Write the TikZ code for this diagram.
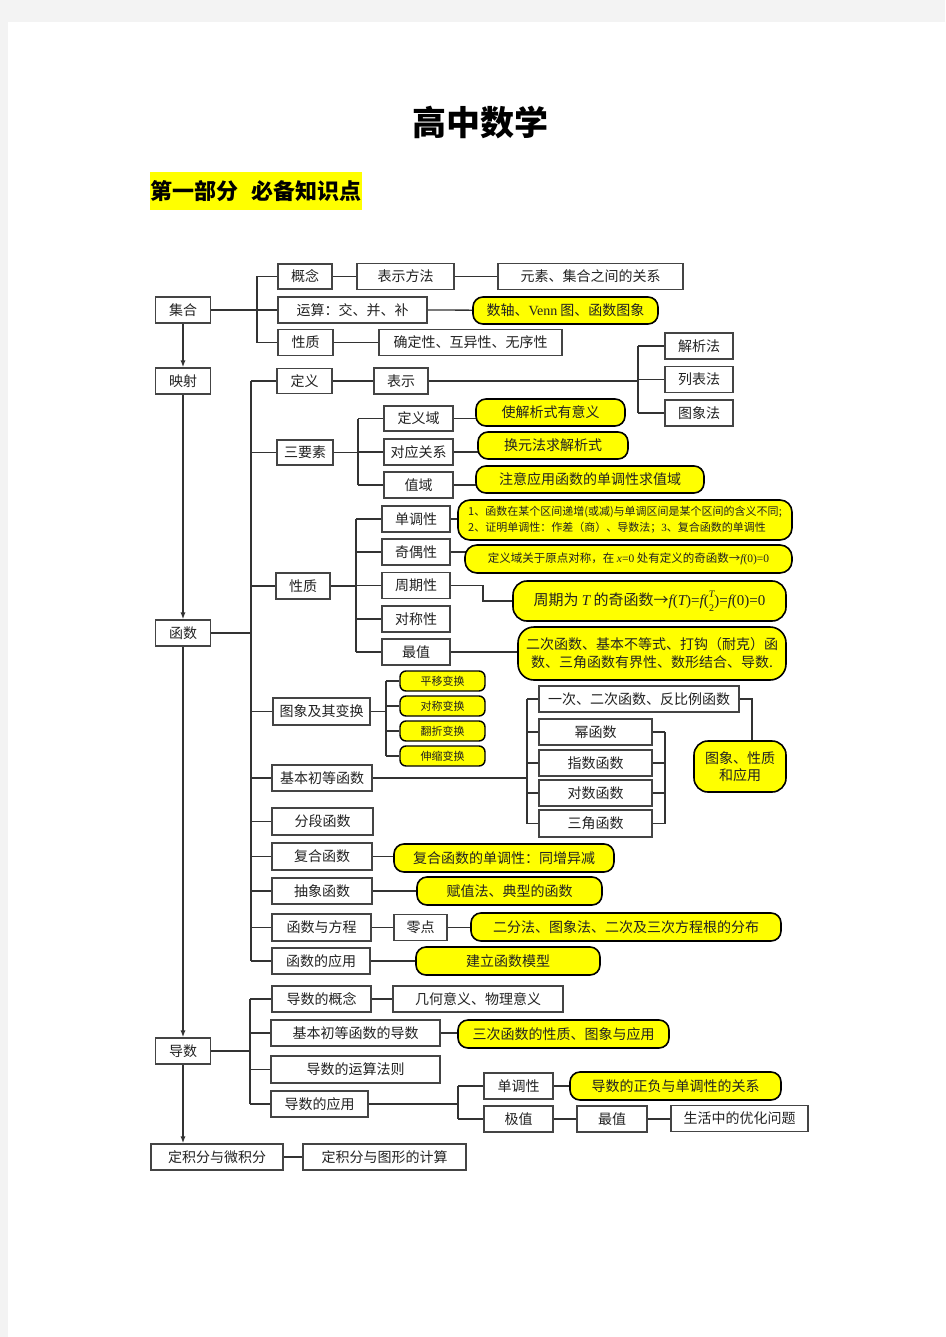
\documentclass[tikz,border=0pt]{standalone}
\usepackage{fontspec}
\setmainfont{Noto Sans CJK SC}
\newfontfamily\tm{Liberation Serif}
\usetikzlibrary{arrows.meta,backgrounds}
\newcommand\myfs[1]{\fontsize{#1}{#1}\selectfont}
\definecolor{pagebg}{HTML}{F3F3F3}
\definecolor{bordc}{HTML}{444444}
\definecolor{linec}{HTML}{333333}
\definecolor{txtc}{HTML}{222222}
\definecolor{yel}{HTML}{FFFF00}
\tikzset{
  bx/.style={draw=bordc, line width=1.1pt, fill=white, minimum height=26pt, inner sep=0pt, font=\myfs{14}, text=txtc},
  pl/.style={draw=black, line width=1.6pt, fill=yel, rounded corners=10pt, minimum height=28pt, inner sep=0pt, font=\myfs{14}, text=txtc},
  spl/.style={pl, minimum width=85pt, minimum height=20pt, rounded corners=6pt, line width=1.4pt, font=\myfs{11}},
  ln/.style={draw=linec, line width=1.3pt},
  arr/.style={ln, -{Latex[length=7pt,width=5pt]}},
}
\begin{document}
\begin{tikzpicture}[x=1pt,y=-1pt]
\useasboundingbox (0,0) rectangle (945,1337);
% title
\node (title) at (480,123) {\myfs{34}\bfseries 高中数学};
\node[fill=yel, minimum width=212pt, minimum height=38pt, inner sep=0pt] (part) at (256,191) {\myfs{22}\bfseries 第一部分\hspace{0.6em}必备知识点};
% main column
\node[bx, minimum width=55pt] (jihe) at (183,310) {集合};
\node[bx, minimum width=55pt] (yingshe) at (183,381) {映射};
\node[bx, minimum width=55pt] (hanshu) at (183,633) {函数};
\node[bx, minimum width=55pt] (daoshu) at (183,1051) {导数};
\node[bx, minimum width=132pt] (djf) at (217,1157) {定积分与微积分};
\node[bx, minimum width=163pt] (djf2) at (384.5,1157) {定积分与图形的计算};
% jihe group
\node[bx, minimum width=54pt, minimum height=25pt] (gainian) at (305,276.5) {概念};
\node[bx, minimum width=97pt] (bsff) at (405.5,276.5) {表示方法};
\node[bx, minimum width=185pt] (ysgx) at (590.5,276.5) {元素、集合之间的关系};
\node[bx, minimum width=149pt] (yunsuan) at (352.5,310) {运算：交、并、补};
\node[pl, minimum width=185pt, minimum height=27pt] (p1) at (565.5,310.5) {数轴、{\tm Venn} 图、函数图象};
\node[bx, minimum width=55pt] (xz1) at (305.5,342.5) {性质};
\node[bx, minimum width=183pt] (qdx) at (470.5,342.5) {确定性、互异性、无序性};
% dingyi
\node[bx, minimum width=55pt, minimum height=25pt] (dingyi) at (304.5,381) {定义};
\node[bx, minimum width=54pt] (biaoshi) at (401,381) {表示};
\node[bx, minimum width=68pt] (jxf) at (699,346) {解析法};
\node[bx, minimum width=68pt] (lbf) at (699,379.5) {列表法};
\node[bx, minimum width=68pt] (txf) at (699,413) {图象法};
% sanyaosu
\node[bx, minimum width=56pt, minimum height=25pt] (sys) at (305,452.5) {三要素};
\node[bx, minimum width=69pt, minimum height=25pt] (dyy) at (418.5,418.5) {定义域};
\node[bx, minimum width=69pt] (dygx) at (418.5,452) {对应关系};
\node[bx, minimum width=69pt] (zy) at (418.5,485) {值域};
\node[pl, minimum width=149pt, minimum height=27pt] (pdyy) at (550.5,412.5) {使解析式有意义};
\node[pl, minimum width=150pt, minimum height=27pt] (pdygx) at (553,445.5) {换元法求解析式};
\node[pl, minimum width=228pt, minimum height=27pt] (pzy) at (590,479.5) {注意应用函数的单调性求值域};
% xingzhi
\node[bx, minimum width=54pt] (xz2) at (303,586) {性质};
\node[bx, minimum width=68pt] (ddx) at (416,519) {单调性};
\node[bx, minimum width=68pt] (joux) at (416,552) {奇偶性};
\node[bx, minimum width=68pt] (zqx) at (416,585.5) {周期性};
\node[bx, minimum width=68pt] (dcx) at (416,619) {对称性};
\node[bx, minimum width=68pt] (zuizhi) at (416,652) {最值};
\node[pl, minimum width=334pt, minimum height=40pt, rounded corners=12pt, font=\myfs{11}, align=left] (pddx) at (625,520)
  {1、函数在某个区间递增(或减)与单调区间是某个区间的含义不同;\\[3pt]2、证明单调性：作差（商）、导数法；{\tm 3}、复合函数的单调性};
\node[pl, minimum width=327pt, minimum height=28pt, rounded corners=12pt, font=\myfs{11.5}] (pjoux) at (628.5,559)
  {定义域关于原点对称，在 {\tm\itshape x}{\tm =0} 处有定义的奇函数→{\tm\itshape f}{\tm (0)=0}};
\node[pl, minimum width=273pt, minimum height=40pt, rounded corners=14pt, font=\myfs{15}] (pzqx) at (649.5,601)
  {周期为 {\tm\itshape T} 的奇函数→{\tm\itshape f}{\tm (}{\tm\itshape T}{\tm )=}{\tm\itshape f}{\tm (}\raisebox{-6pt}{\fontsize{10}{10}\selectfont\shortstack{{\tm\itshape T}\\[4pt]{\tm 2}}}{\tm )=}{\tm\itshape f}{\tm (0)=0}};
\node[pl, minimum width=268pt, minimum height=53pt, rounded corners=16pt, align=center] (pzz) at (652,653.5)
  {二次函数、基本不等式、打钩（耐克）函\\[4pt]数、三角函数有界性、数形结合、导数.};
% tuxiang
\node[bx, minimum width=97pt, minimum height=27pt] (txbh) at (321.5,711.5) {图象及其变换};
\node[spl] (s1) at (442.5,681) {平移变换};
\node[spl] (s2) at (442.5,706) {对称变换};
\node[spl] (s3) at (442.5,731) {翻折变换};
\node[spl] (s4) at (442.5,756) {伸缩变换};
% jichu
\node[bx, minimum width=100pt] (jbcd) at (322,778) {基本初等函数};
\node[bx, minimum width=200pt] (yc) at (639,699) {一次、二次函数、反比例函数};
\node[bx, minimum width=113pt] (mhs) at (595.5,732) {幂函数};
\node[bx, minimum width=113pt] (zshs) at (595.5,763) {指数函数};
\node[bx, minimum width=113pt] (dshs) at (595.5,793) {对数函数};
\node[bx, minimum width=113pt, minimum height=27pt] (sjhs) at (595.5,823.5) {三角函数};
\node[pl, minimum width=92pt, minimum height=51pt, rounded corners=14pt, align=center] (ptx) at (740,766.5) {图象、性质\\[3pt]和应用};
% others
\node[bx, minimum width=101pt, minimum height=27pt] (fdhs) at (322.5,821.5) {分段函数};
\node[bx, minimum width=100pt, minimum height=27pt] (fhhs) at (322,856.5) {复合函数};
\node[pl, minimum width=220pt] (pfh) at (504,858) {复合函数的单调性：同增异减};
\node[bx, minimum width=100pt] (cxhs) at (322,891) {抽象函数};
\node[pl, minimum width=185pt] (pcx) at (509.5,891) {赋值法、典型的函数};
\node[bx, minimum width=99pt, minimum height=27pt] (hsfc) at (321.5,927.5) {函数与方程};
\node[bx, minimum width=53pt] (ld) at (420.5,927.5) {零点};
\node[pl, minimum width=310pt] (pld) at (626,927) {二分法、图象法、二次及三次方程根的分布};
\node[bx, minimum width=98pt] (hsyy) at (321,961) {函数的应用};
\node[pl, minimum width=184pt] (phsyy) at (508,961) {建立函数模型};
% daoshu group
\node[bx, minimum width=99pt] (dsgn) at (321.5,999) {导数的概念};
\node[bx, minimum width=170pt] (jhyy) at (478,999) {几何意义、物理意义};
\node[bx, minimum width=169pt] (jbdd) at (355.5,1033) {基本初等函数的导数};
\node[pl, minimum width=211pt] (psc) at (563.5,1034) {三次函数的性质、图象与应用};
\node[bx, minimum width=169pt, minimum height=27pt] (ysfz) at (355.5,1069.5) {导数的运算法则};
\node[bx, minimum width=97pt] (dsyy) at (319.5,1104) {导数的应用};
\node[bx, minimum width=69pt] (ddx2) at (518.5,1086) {单调性};
\node[pl, minimum width=211pt] (pzf) at (675.5,1086) {导数的正负与单调性的关系};
\node[bx, minimum width=69pt] (jz) at (518.5,1119) {极值};
\node[bx, minimum width=70pt] (zz2) at (612,1119) {最值};
\node[bx, minimum width=137pt] (shyh) at (739.5,1118.5) {生活中的优化问题};

\begin{scope}[on background layer]
\fill[pagebg] (0,0) rectangle (945,1337);
\fill[white] (8,22) rectangle (945,1337);
% arrows on main column
\draw[arr] (jihe.south) -- (yingshe.north);
\draw[arr] (yingshe.south) -- (hanshu.north);
\draw[arr] (hanshu.south) -- (daoshu.north);
\draw[arr] (daoshu.south) -- (daoshu.south |- djf.north);
\draw[ln] (djf.east) -- (djf2.west);
% jihe bracket
\coordinate (b1t) at (257,276.5);
\coordinate (b1b) at (257,342.5);
\draw[ln] (b1t) -- (b1b);
\draw[ln] (jihe.east) -- (jihe.east -| b1t);
\draw[ln] (b1t) -- (gainian.west);
\draw[ln] (yunsuan.west -| b1t) -- (yunsuan.west);
\draw[ln] (b1b) -- (xz1.west);
\draw[ln] (gainian.east) -- (bsff.west);
\draw[ln] (bsff.east) -- (ysgx.west);
\draw[ln] (yunsuan.east) -- (p1.center);
\draw[ln] (xz1.east) -- (qdx.west);
% big function bracket
\coordinate (bft) at (251,381);
\coordinate (bfb) at (251,961);
\draw[ln] (bft) -- (bfb);
\draw[ln] (hanshu.east) -- (hanshu.east -| bft);
\foreach \n in {dingyi,sys,xz2,txbh,jbcd,fdhs,fhhs,cxhs,hsfc,hsyy}
  \draw[ln] (\n.west -| bft) -- (\n.west);
% dingyi
\draw[ln] (dingyi.east) -- (biaoshi.west);
\coordinate (b2t) at (638,346);
\coordinate (b2b) at (638,413);
\draw[ln] (b2t) -- (b2b);
\draw[ln] (biaoshi.east) -- (biaoshi.east -| b2t);
\foreach \n in {jxf,lbf,txf} \draw[ln] (\n.west -| b2t) -- (\n.west);
% sanyaosu
\coordinate (b3t) at (358,418.5);
\coordinate (b3b) at (358,485);
\draw[ln] (b3t) -- (b3b);
\draw[ln] (sys.east) -- (sys.east -| b3t);
\foreach \n in {dyy,dygx,zy} \draw[ln] (\n.west -| b3t) -- (\n.west);
\draw[ln] (dyy.east) -- (dyy.east -| pdyy.center);
\draw[ln] (dygx.east) -- (dygx.east -| pdygx.center);
\draw[ln] (zy.east) -- (zy.east -| pzy.center);
% xingzhi
\coordinate (b4t) at (356,519);
\coordinate (b4b) at (356,652);
\draw[ln] (b4t) -- (b4b);
\draw[ln] (xz2.east) -- (xz2.east -| b4t);
\foreach \n in {ddx,joux,zqx,dcx,zuizhi} \draw[ln] (\n.west -| b4t) -- (\n.west);
\draw[ln] (ddx.east) -- (ddx.east -| pddx.center);
\draw[ln] (joux.east) -- (joux.east -| pjoux.center);
\coordinate (zqk) at (483,585.5);
\draw[ln] (zqx.east) -- (zqk) -- (zqk |- pzqx.center) -- (pzqx.center);
\draw[ln] (zuizhi.east) -- (zuizhi.east -| pzz.center);
% tuxiang
\coordinate (b5t) at (386,681);
\coordinate (b5b) at (386,756);
\draw[ln] (b5t) -- (b5b);
\draw[ln] (txbh.east) -- (txbh.east -| b5t);
\foreach \n in {s1,s2,s3,s4} \draw[ln] (\n.west -| b5t) -- (\n.west);
% jichu
\coordinate (b6t) at (527,699);
\coordinate (b6b) at (527,823.5);
\draw[ln] (b6t) -- (b6b);
\draw[ln] (jbcd.east) -- (jbcd.east -| b6t);
\foreach \n in {yc,mhs,zshs,dshs,sjhs} \draw[ln] (\n.west -| b6t) -- (\n.west);
\coordinate (b7t) at (665,732);
\coordinate (b7b) at (665,823.5);
\draw[ln] (b7t) -- (b7b);
\foreach \n in {mhs,zshs,dshs,sjhs} \draw[ln] (\n.east) -- (\n.east -| b7t);
\coordinate (yck) at (752,699);
\draw[ln] (yc.east) -- (yck) -- (yck |- ptx.center);
% others
\draw[ln] (fhhs.east) -- (fhhs.east -| pfh.center);
\draw[ln] (cxhs.east) -- (pcx.center);
\draw[ln] (hsfc.east) -- (ld.west);
\draw[ln] (ld.east) -- (ld.east -| pld.center);
\draw[ln] (hsyy.east) -- (phsyy.center);
% daoshu
\coordinate (b8t) at (250,999);
\coordinate (b8b) at (250,1104);
\draw[ln] (b8t) -- (b8b);
\draw[ln] (daoshu.east) -- (daoshu.east -| b8t);
\foreach \n in {dsgn,jbdd,ysfz,dsyy} \draw[ln] (\n.west -| b8t) -- (\n.west);
\draw[ln] (dsgn.east) -- (jhyy.west);
\draw[ln] (jbdd.east) -- (jbdd.east -| psc.center);
\coordinate (b9t) at (458,1086);
\coordinate (b9b) at (458,1119);
\draw[ln] (b9t) -- (b9b);
\draw[ln] (dsyy.east) -- (dsyy.east -| b9t);
\foreach \n in {ddx2,jz} \draw[ln] (\n.west -| b9t) -- (\n.west);
\draw[ln] (ddx2.east) -- (pzf.center);
\draw[ln] (jz.east) -- (zz2.west);
\draw[ln] (zz2.east) -- (zz2.east -| shyh.west);
\end{scope}
\end{tikzpicture}
\end{document}
